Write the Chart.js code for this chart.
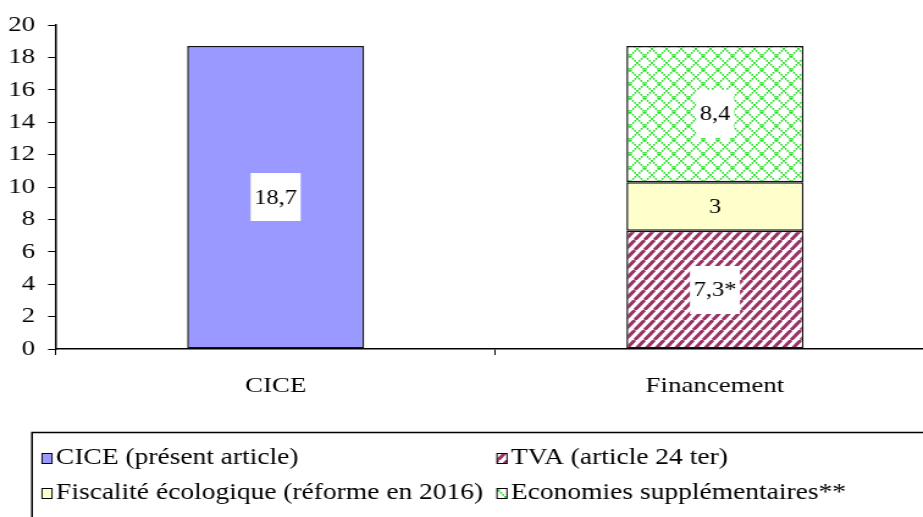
<!DOCTYPE html>
<html>
<head>
<meta charset="utf-8">
<script src="https://cdn.jsdelivr.net/npm/chart.js@4/dist/chart.umd.min.js"></script>
<style>
html,body{margin:0;padding:0;background:#fff;overflow:hidden;width:923px;height:517px;}
canvas{position:absolute;left:0;top:0;}
</style>
</head>
<body>
<canvas id="c" width="770" height="517" style="width:940px;height:517px"></canvas>
<script>
// ---- data ----
const categories = ['CICE', 'Financement'];
const ciceValues = [18.7, null];
const tvaValues = [null, 7.3];
const fiscaliteValues = [null, 3];
const economiesValues = [null, 8.4];
const seriesNames = ['CICE (présent article)', 'TVA (article 24 ter)', 'Fiscalité écologique (réforme en 2016)', 'Economies supplémentaires**'];
const ciceLabels = ['18,7', null];
const tvaLabels = [null, '7,3*'];
const fiscaliteLabels = [null, '3'];
const economiesLabels = [null, '8,4'];
const yMin = 0, yMax = 20, yStep = 2;

// the canvas is drawn at natural width and stretched horizontally by CSS (like the reference)
const K = 940 / 770;

// ---- patterns ----
function stripePattern() {
  const w = 8, h = 10, c = document.createElement('canvas');
  c.width = w; c.height = h;
  const g = c.getContext('2d');
  g.fillStyle = '#fff'; g.fillRect(0, 0, w, h);
  g.strokeStyle = '#993366'; g.lineWidth = 3;
  g.beginPath();
  for (const o of [-1, 0, 1]) { g.moveTo(o * w, h); g.lineTo(o * w + w, 0); }
  g.stroke();
  return g.createPattern(c, 'repeat');
}
function crossPattern() {
  const w = 12, h = 14, c = document.createElement('canvas');
  c.width = w; c.height = h;
  const g = c.getContext('2d');
  g.fillStyle = '#fff'; g.fillRect(0, 0, w, h);
  g.fillStyle = '#22dd22';
  for (let i = 0; i < h; i += 2) {
    const x = i * w / h;
    g.fillRect(x, i, 1.5, 1.7);
    g.fillRect(w - 1.5 - x, i, 1.5, 1.7);
  }
  return g.createPattern(c, 'repeat');
}
const stripes = stripePattern();
const cross = crossPattern();

const FONT = '"Liberation Serif", "Times New Roman", serif';
Chart.defaults.font.family = FONT;
Chart.defaults.font.size = 22;
Chart.defaults.color = '#000';

const valueLabelPlugin = {
  id: 'valueLabels',
  afterDatasetsDraw(chart) {
    const ctx = chart.ctx;
    ctx.save();
    ctx.font = '20px ' + FONT;
    ctx.textAlign = 'center';
    ctx.textBaseline = 'middle';
    chart.data.datasets.forEach((ds, di) => {
      const meta = chart.getDatasetMeta(di);
      meta.data.forEach((el, i) => {
        const txt = ds.valueText[i];
        if (txt == null) return;
        const cx = el.x, cy = (el.y + el.base) / 2;
        if (ds.labelBox) {
          const w = ctx.measureText(txt).width + 6;
          const h = 48;
          ctx.fillStyle = '#fff';
          ctx.fillRect(cx - w / 2, Math.round(cy - h / 2), w, h);
        }
        ctx.fillStyle = '#000';
        ctx.fillText(txt, cx, cy + 1);
      });
    });
    ctx.restore();
  }
};

const legendPlugin = {
  id: 'boxLegend',
  afterDraw(chart) {
    const ctx = chart.ctx;
    ctx.save();
    ctx.strokeStyle = '#000';
    ctx.lineWidth = 1.5;
    ctx.strokeRect(32 / K, 432.5, 1000, 200);
    const pos = [[42, 458], [497, 458], [42, 493], [497, 493]];
    ctx.font = '22.5px ' + FONT;
    ctx.textBaseline = 'middle';
    ctx.textAlign = 'left';
    chart.data.datasets.forEach((ds, i) => {
      const x = pos[i][0] / K, y = pos[i][1];
      const mw = 10 / K;
      ctx.fillStyle = ds.backgroundColor;
      ctx.fillRect(x, y - 5, mw, 10);
      ctx.lineWidth = 1;
      ctx.strokeStyle = '#000';
      ctx.strokeRect(x, y - 4.5, mw, 10);
      ctx.fillStyle = '#000';
      ctx.fillText(ds.label, x + 14 / K, y);
    });
    ctx.restore();
  }
};

new Chart(document.getElementById('c'), {
  type: 'bar',
  data: {
    labels: categories,
    datasets: [
      { label: seriesNames[0], data: ciceValues, valueText: ciceLabels, labelBox: true, backgroundColor: '#9999ff' },
      { label: seriesNames[1], data: tvaValues, valueText: tvaLabels, labelBox: true, backgroundColor: stripes },
      { label: seriesNames[2], data: fiscaliteValues, valueText: fiscaliteLabels, labelBox: false, backgroundColor: '#ffffcc' },
      { label: seriesNames[3], data: economiesValues, valueText: economiesLabels, labelBox: true, backgroundColor: cross }
    ].map(d => Object.assign(d, {
      borderColor: '#111', borderWidth: 1.5, borderSkipped: false,
      categoryPercentage: 1, barPercentage: 0.403
    }))
  },
  options: {
    responsive: false,
    animation: false,
    events: [],
    layout: { padding: { top: 25, right: 4.4, bottom: 0, left: 0 } },
    plugins: { legend: { display: false }, tooltip: { enabled: false } },
    scales: {
      x: {
        stacked: true,
        afterFit(s) { s.height = 168; },
        grid: { display: true, offset: true, drawOnChartArea: false, tickLength: 6, color: '#000', lineWidth: 1 },
        border: { display: true, color: '#000', width: 1.5 },
        ticks: { padding: 18, color: '#000', font: { size: 22 } }
      },
      y: {
        stacked: true,
        min: yMin, max: yMax,
        afterFit(s) { s.width = 56 / K; },
        grid: { display: true, drawOnChartArea: false, tickLength: 6.5, color: '#000', lineWidth: 1 },
        border: { display: true, color: '#000', width: 1.5 },
        ticks: { stepSize: yStep, padding: 10.5, color: '#000', font: { size: 22 } }
      }
    }
  },
  plugins: [valueLabelPlugin, legendPlugin]
});
</script>
</body>
</html>
